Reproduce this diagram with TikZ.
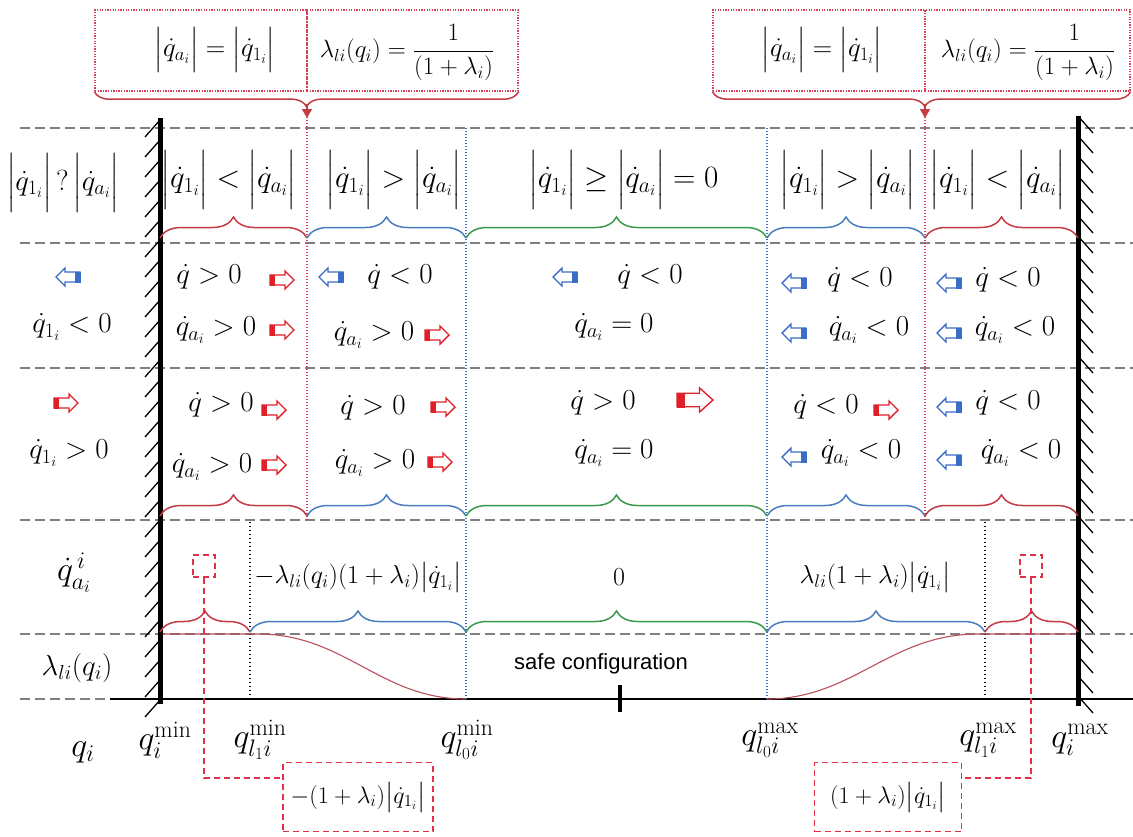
\RequirePackage{fix-cm}
\documentclass[tikz,border=0pt]{standalone}
\usepackage{amsmath}
\usepackage{fontspec}
\newfontfamily\sansf{Liberation Sans}
\usetikzlibrary{decorations.pathreplacing,arrows.meta,calc}
\definecolor{gline}{HTML}{808080}
\definecolor{bred}{HTML}{C23B45}
\definecolor{bblue}{HTML}{4A7DC0}
\definecolor{bgreen}{HTML}{3A9A4A}
\definecolor{dotred}{HTML}{E0304A}
\definecolor{dotblue}{HTML}{4070D0}
\definecolor{boxred}{HTML}{D84055}
\definecolor{curvered}{HTML}{B8505A}
\definecolor{arred}{HTML}{E02028}
\definecolor{arblue}{HTML}{3A6CC8}
\newcommand{\qo}{\dot q_{1_i}}
\newcommand{\qa}{\dot q_{a_i}}
\newcommand{\av}[1]{\Bigl|#1\Bigr|}
\newcommand{\sv}[1]{\bigl|#1\bigr|}
\begin{document}
\begin{tikzpicture}[x=1pt,y=-1pt,
  gdash/.style={draw=gline,line width=1.8pt,dash pattern=on 10pt off 5pt},
  rdot/.style={draw=dotred,line width=1.2pt,dash pattern=on 1.2pt off 1.8pt},
  bdot/.style={draw=dotblue,line width=1.2pt,dash pattern=on 1.2pt off 1.8pt},
  kdot/.style={draw=black,line width=1.3pt,dash pattern=on 1.3pt off 2.7pt},
  wall/.style={line width=5pt},
  hatch/.style={line width=1.3pt},
  brc/.style={draw=#1,line width=1.5pt,decorate,decoration={brace,amplitude=21pt}},
  tbox/.style={draw=boxred,line width=1.3pt,dash pattern=on 1.3pt off 1.3pt,minimum height=81pt,inner sep=0pt},
  rbox/.style={draw=dotred,line width=1.5pt,dash pattern=on 6pt off 4pt,inner sep=0pt},
  rcon/.style={draw=dotred,line width=1.5pt,dash pattern=on 6pt off 4pt},
  curve/.style={draw=curvered,line width=1.1pt},
  mH/.style={font=\fontsize{31}{36}\selectfont,inner sep=0pt},
  mA/.style={font=\fontsize{29}{34}\selectfont,inner sep=0pt},
  mT/.style={font=\fontsize{27}{32}\selectfont,inner sep=0pt},
  mF/.style={font=\fontsize{25}{30}\selectfont,inner sep=0pt},
  mD/.style={font=\fontsize{26}{30}\selectfont,inner sep=0pt},
  mQ/.style={font=\fontsize{34}{40}\selectfont,inner sep=0pt},
  rA/.style={draw=arred,fill=arred},
  bA/.style={draw=arblue,fill=arblue,xscale=-1},
  blockarrow/.pic={
    \draw[pic actions,fill=white,line width=1.4pt,line join=miter]
      (-12,-5) -- (3,-5) -- (3,-9) -- (12,0) -- (3,9) -- (3,5) -- (-12,5) -- cycle;
    \fill[pic actions] (-12,-5) rectangle (-7.5,5);
  }
]
\useasboundingbox (0,0) rectangle (1133,836);

% grid
\foreach \y in {128,243,368,520,634} \draw[gdash] (20,\y) -- (1133,\y);
\draw[gdash] (20,699) -- (110,699);
\draw[line width=1.8pt] (110,699) -- (1133,699);

% vertical dotted lines
\draw[rdot] (307,117) -- (307,520);
\draw[rdot] (925,117) -- (925,520);
\draw[bdot] (466,128) -- (466,699);
\draw[bdot] (767,128) -- (767,699);
\draw[kdot] (250,522) -- (250,699);
\draw[kdot] (985,522) -- (985,699);

% curves lambda
\draw[curve] (160,634) -- (258,634) .. controls (345,634) and (380,699) .. (466,699);
\draw[curve] (767,699) .. controls (853,699) and (890,634) .. (978,634) -- (1078,634);

% walls
\draw[wall] (160,118) -- (160,704);
\foreach \y in {120,140,...,700} \draw[hatch] (145,\y+17) -- (160,\y);
\draw[wall] (1078,116) -- (1078,706);
\foreach \y in {116,136,...,696} \draw[hatch] (1078,\y) -- (1093,\y+17);

% braces row A
\draw[brc=bred] (160,238) -- (307,238);
\draw[brc=bblue] (307,238) -- (466,238);
\draw[brc=bgreen] (466,238) -- (767,238);
\draw[brc=bblue] (767,238) -- (925,238);
\draw[brc=bred] (925,238) -- (1078,238);
% braces row C
\draw[brc=bred] (160,516) -- (307,516);
\draw[brc=bblue] (307,516) -- (466,516);
\draw[brc=bgreen] (466,516) -- (767,516);
\draw[brc=bblue] (767,516) -- (925,516);
\draw[brc=bred] (925,516) -- (1078,516);
% braces row D
\draw[brc=bred] (160,632) -- (250,632);
\draw[brc=bblue] (250,632) -- (466,632);
\draw[brc=bgreen] (466,632) -- (767,632);
\draw[brc=bblue] (767,632) -- (985,632);
\draw[brc=bred] (985,632) -- (1078,632);

% top boxes
\node[tbox,minimum width=212pt] (tb1) at (201,50.5) {};
\node[tbox,minimum width=211pt] (tb2) at (412.5,50.5) {};
\node[tbox,minimum width=212pt] (tb3) at (819,50.5) {};
\node[tbox,minimum width=205pt] (tb4) at (1027.5,50.5) {};
\node[mT] (tt1) at (215,50) {$\av{\qa} = \av{\qo}$};
\node[mF] (tt2) at (407,53) {$\lambda_{li}(q_i) = \dfrac{1}{(1+\lambda_i)}$};
\node[mT] (tt3) at (822,50) {$\av{\qa} = \av{\qo}$};
\node[mF] (tt4) at (1028,53) {$\lambda_{li}(q_i) = \dfrac{1}{(1+\lambda_i)}$};
\draw[bred,line width=1.5pt,decorate,decoration={brace,mirror,amplitude=15pt}] (tb1.south west) -- (tb2.south east);
\draw[bred,line width=1.5pt,decorate,decoration={brace,mirror,amplitude=15pt,aspect=0.508}] (tb3.south west) -- (tb4.south east);
\coordinate (tipL) at (307,118);
\coordinate (tipR) at (925,118);
\draw[bred,line width=1.5pt,-{Triangle[length=9pt,width=10pt]}] (307,104) -- (tipL);
\draw[bred,line width=1.5pt,-{Triangle[length=9pt,width=10pt]}] (925,104) -- (tipR);

% row A
\node[mA] (a0) at (63,183) {$\av{\qo}\,?\,\av{\qa}$};
\node[mH] (a1) at (229,180) {$\av{\qo} < \av{\qa}$};
\node[mH] (a2) at (394,180) {$\av{\qo} > \av{\qa}$};
\node[mH] (a3) at (624,180) {$\av{\qo} \ge \av{\qa} = 0$};
\node[mH] (a4) at (848,180) {$\av{\qo} > \av{\qa}$};
\node[mH] (a5) at (998,180) {$\av{\qo} < \av{\qa}$};

% row B
\pic[bA] at (68,277) {blockarrow};
\node[mA] (b0) at (72,327) {$\qo < 0$};
\node[mA] (b11) at (209,277) {$\dot q > 0$};
\pic[rA] at (282,280) {blockarrow};
\node[mA] (b12) at (216,330) {$\qa > 0$};
\pic[rA] at (282,330) {blockarrow};
\pic[bA] at (331,277) {blockarrow};
\node[mA] (b21) at (400,277) {$\dot q < 0$};
\node[mA] (b22) at (374,335) {$\qa > 0$};
\pic[rA] at (437,335) {blockarrow};
\pic[bA] at (565,277) {blockarrow};
\node[mA] (b31) at (650,277) {$\dot q < 0$};
\node[mA] (b32) at (614,327) {$\qa = 0$};
\pic[bA] at (794,283) {blockarrow};
\node[mA] (b41) at (860,280) {$\dot q < 0$};
\pic[bA] at (794,333) {blockarrow};
\node[mA] (b42) at (869,330) {$\qa < 0$};
\pic[bA] at (949,283) {blockarrow};
\node[mA] (b51) at (1008,280) {$\dot q < 0$};
\pic[bA] at (949,333) {blockarrow};
\node[mA] (b52) at (1015,330) {$\qa < 0$};

% row C
\pic[rA] at (66,403) {blockarrow};
\node[mA] (c0) at (69,453) {$\qo > 0$};
\node[mA] (c11) at (221,405) {$\dot q > 0$};
\pic[rA] at (274,410) {blockarrow};
\node[mA] (c12) at (212,467) {$\qa > 0$};
\pic[rA] at (274,465) {blockarrow};
\node[mA] (c21) at (373,408) {$\dot q > 0$};
\pic[rA] at (443,407) {blockarrow};
\node[mA] (c22) at (375,463) {$\qa > 0$};
\pic[rA] at (440,462) {blockarrow};
\node[mA] (c31) at (603,403) {$\dot q > 0$};
\pic[rA,xscale=1.5,yscale=1.35] at (695,400) {blockarrow};
\node[mA] (c32) at (614,453) {$\qa = 0$};
\node[mA] (c41) at (826,407) {$\dot q < 0$};
\pic[rA] at (886,410) {blockarrow};
\pic[bA] at (794,457) {blockarrow};
\node[mA] (c42) at (861,453) {$\qa < 0$};
\pic[bA] at (949,407) {blockarrow};
\node[mA] (c51) at (1008,403) {$\dot q < 0$};
\pic[bA] at (949,460) {blockarrow};
\node[mA] (c52) at (1021,453) {$\qa < 0$};

% row D
\node[mQ] (d0) at (74,573) {$\dot q^{\,i}_{a_i}$};
\node[mD] (d1) at (358,577) {$-\lambda_{li}(q_i)(1+\lambda_i)\sv{\qo}$};
\node[mD] (d2) at (619,577) {$0$};
\node[mD] (d3) at (875,577) {$\lambda_{li}(1+\lambda_i)\sv{\qo}$};

% row E
\node[mA] (e0) at (77,668) {$\lambda_{li}(q_i)$};
\node[font=\sansf\fontsize{22}{26}\selectfont,inner sep=0pt] (safe) at (601,664) {safe configuration};
\draw[line width=4pt] (620,685) -- (620,712);

% bottom labels
\node[mQ] (qi) at (83,752) {$q_i$};
\node[mQ] (qmin) at (165,740) {$q_i^{\mathrm{min}}$};
\node[mQ] (ql1min) at (260,740) {$q_{l_1 i}^{\mathrm{min}}$};
\node[mQ] (ql0min) at (467,740) {$q_{l_0 i}^{\mathrm{min}}$};
\node[mQ] (ql0max) at (770,740) {$q_{l_0 i}^{\mathrm{max}}$};
\node[mQ] (ql1max) at (988,740) {$q_{l_1 i}^{\mathrm{max}}$};
\node[mQ] (qmax) at (1080,740) {$q_i^{\mathrm{max}}$};

% callouts
\node[rbox,minimum size=22pt] (sqL) at (204,566) {};
\node[rbox,minimum width=150pt,minimum height=69pt,font=\fontsize{24}{28}\selectfont] (boxL) at (358,797) {$-(1+\lambda_i)\sv{\qo}$};
\draw[rcon] (sqL.south) |- ($(boxL.north west)!0.23!(boxL.south west)$);
\node[rbox,minimum size=22pt] (sqR) at (1031,566) {};
\node[rbox,minimum width=147pt,minimum height=69pt,font=\fontsize{24}{28}\selectfont] (boxR) at (888,797) {$(1+\lambda_i)\sv{\qo}$};
\draw[rcon] (sqR.south) |- ($(boxR.north east)!0.23!(boxR.south east)$);
\end{tikzpicture}
\end{document}
